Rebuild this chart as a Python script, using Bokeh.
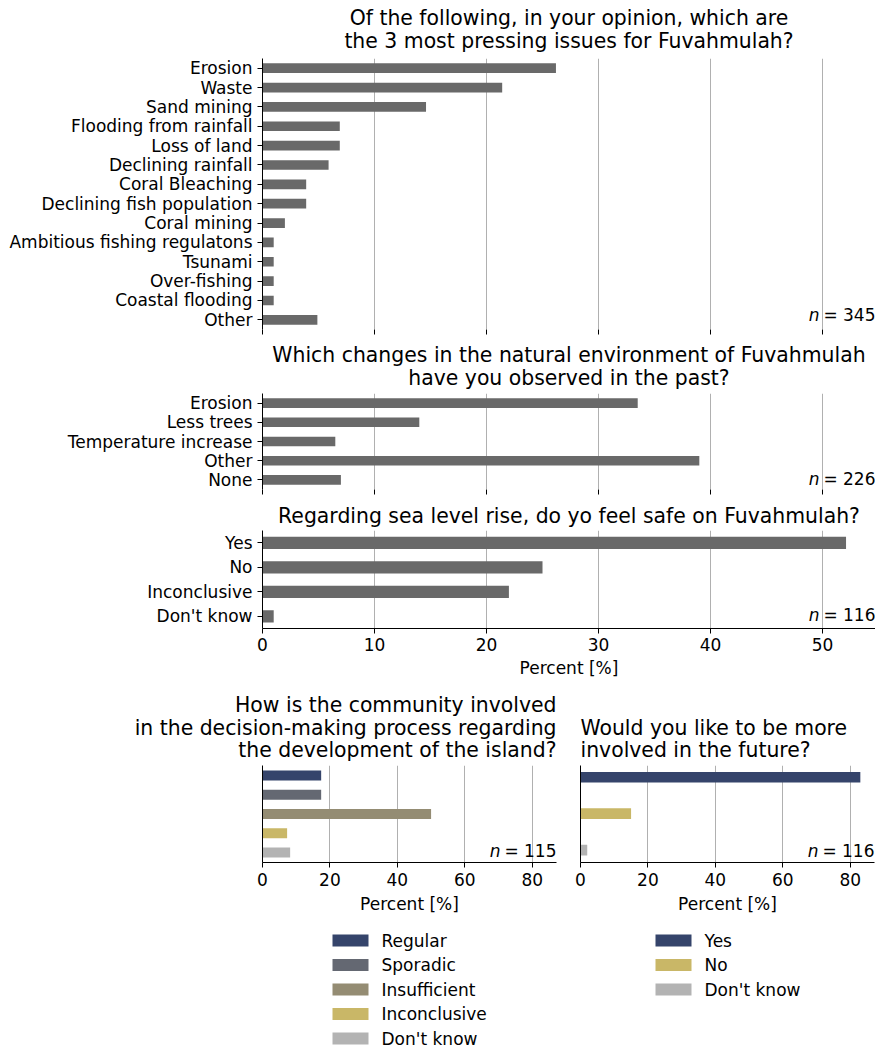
from bokeh.plotting import figure
from bokeh.models import (FactorRange, Range1d, Title, Label, FixedTicker,
                          CustomJSTickFormatter, ColumnDataSource)
from bokeh.core.properties import value
from bokeh.layouts import column, row
from bokeh.embed import file_html
from bokeh.resources import INLINE

# ---- survey results (percent of respondents) ----
issues = ["Erosion", "Waste", "Sand mining", "Flooding from rainfall", "Loss of land",
          "Declining rainfall", "Coral Bleaching", "Declining fish population",
          "Coral mining", "Ambitious fishing regulatons", "Tsunami", "Over-fishing",
          "Coastal flooding", "Other"]
issues_pct = [26.2, 21.4, 14.6, 6.9, 6.9, 5.9, 3.9, 3.9, 2.0, 1.0, 1.0, 1.0, 1.0, 4.9]
issues_n = 345

changes = ["Erosion", "Less trees", "Temperature increase", "Other", "None"]
changes_pct = [33.5, 14.0, 6.5, 39.0, 7.0]
changes_n = 226

safety = ["Yes", "No", "Inconclusive", "Don't know"]
safety_pct = [52.1, 25.0, 22.0, 1.0]
safety_n = 116

involvement = ["Regular", "Sporadic", "Insufficient", "Inconclusive", "Don't know"]
involvement_pct = [17.4, 17.4, 50.0, 7.3, 8.2]
involvement_n = 115

more_involved = ["Yes", "No", "Don't know"]
more_involved_pct = [83.0, 15.0, 2.0]
more_involved_n = 116

top_ticks = [0, 10, 20, 30, 40, 50]
bottom_ticks = [0, 20, 40, 60, 80]
top_xmax = 54.73
bottom_xmax = 87.2

# ---- styling ----
FONT = "DejaVu Sans"
TICK_SIZE = "17px"
TITLE_SIZE = "20.4px"
BAR_GREY = "#696969"
GRID = "#b0b0b0"
involvement_colors = ["#35446b", "#646872", "#948c73", "#c9b767", "#b3b3b3"]
more_involved_colors = ["#35446b", "#c9b767", "#b3b3b3"]


def add_titles(p, lines, align, standoffs):
    # Titles stack outward from the frame: the last line goes in first.
    for line, so in zip(reversed(lines), standoffs):
        p.add_layout(Title(text=line, align=align, text_font=FONT, text_font_size=TITLE_SIZE,
                           text_font_style="normal", text_color="black", standoff=so), "above")


def add_n(p, xmax, n, y_px):
    p.add_layout(Label(x=xmax, y=y_px, y_units="screen", text=f"= {n}", text_align="right",
                       text_baseline="middle", text_font=FONT, text_font_size=TICK_SIZE,
                       text_color="black"))
    p.add_layout(Label(x=xmax, y=y_px, y_units="screen", text="n", text_align="right",
                       text_baseline="middle", text_font=FONT, text_font_size=TICK_SIZE,
                       text_font_style="italic", text_color="black", x_offset=-56))


def style_x(p, ticks, show_labels, label_standoff=5, title_standoff=5):
    ax = p.xaxis[0]
    ax.ticker = FixedTicker(ticks=ticks)
    ax.major_tick_out = 5
    ax.major_tick_in = 0
    ax.minor_tick_out = 0
    ax.minor_tick_in = 0
    ax.major_label_text_font = FONT
    ax.major_label_text_font_size = TICK_SIZE
    ax.major_label_text_color = "black"
    ax.major_label_standoff = label_standoff
    ax.axis_line_color = "black"
    if not show_labels:
        ax.axis_line_color = None
        ax.formatter = CustomJSTickFormatter(code="return ''")
        ax.major_label_standoff = 0
    else:
        ax.axis_label = "Percent [%]"
        ax.axis_label_text_font = FONT
        ax.axis_label_text_font_size = TICK_SIZE
        ax.axis_label_text_font_style = "normal"
        ax.axis_label_text_color = "black"
        ax.axis_label_standoff = title_standoff
    p.xgrid.ticker = FixedTicker(ticks=ticks)
    p.xgrid.grid_line_color = GRID
    p.xgrid.grid_line_width = 1
    p.ygrid.grid_line_color = None
    p.outline_line_color = None


def top_panel(cats, vals, n, lines, frame_h, border_top, border_bottom, show_x,
              n_px, standoffs):
    p = figure(title=None, y_range=FactorRange(factors=cats[::-1]), x_range=Range1d(0, top_xmax),
               frame_width=613, frame_height=frame_h, min_border_left=262, min_border_right=0,
               min_border_top=border_top, min_border_bottom=border_bottom,
               output_backend="svg", toolbar_location=None)
    p.hbar(y=cats, right=vals, left=0, height=0.5, fill_color=BAR_GREY, line_color=None)
    style_x(p, top_ticks, show_x, 4, 4)
    ay = p.yaxis[0]
    ay.major_tick_out = 5
    ay.major_tick_in = 0
    ay.major_label_standoff = 5
    ay.major_label_text_font = FONT
    ay.major_label_text_font_size = TICK_SIZE
    ay.major_label_text_color = "black"
    ay.axis_line_color = "black"
    add_titles(p, lines, "center", standoffs)
    add_n(p, top_xmax, n, n_px)
    return p


p1 = top_panel(issues, issues_pct, issues_n,
               ["Of the following, in your opinion, which are",
                "the 3 most pressing issues for Fuvahmulah?"],
               271, 58, 8, False, 15, [11, -16])
p2 = top_panel(changes, changes_pct, changes_n,
               ["Which changes in the natural environment of Fuvahmulah",
                "have you observed in the past?"],
               96, 56, 9, False, 11, [7, -12])
p3 = top_panel(safety, safety_pct, safety_n,
               ["Regarding sea level rise, do yo feel safe on Fuvahmulah?"],
               98, 32, 52, True, 14, [5])


def bottom_panel(cats, vals, colors, n, lines, align, y_lo, y_hi, bar_h,
                 border_left, border_right, standoffs):
    p = figure(title=None, x_range=Range1d(0, bottom_xmax), y_range=Range1d(y_hi, y_lo),
               frame_width=294, frame_height=97, min_border_left=border_left,
               min_border_right=border_right, min_border_top=85, min_border_bottom=56,
               output_backend="svg", toolbar_location=None)
    src = ColumnDataSource(dict(y=list(range(len(cats))), pct=vals, color=colors))
    p.hbar(y="y", right="pct", left=0, height=bar_h, fill_color="color",
           line_color=None, source=src)
    style_x(p, bottom_ticks, True)
    ay = p.yaxis[0]
    ay.major_tick_out = 0
    ay.major_tick_in = 0
    ay.minor_tick_out = 0
    ay.minor_tick_in = 0
    ay.major_label_standoff = 0
    ay.formatter = CustomJSTickFormatter(code="return ''")
    ay.axis_line_color = "black"
    add_titles(p, lines, align, standoffs)
    add_n(p, bottom_xmax, n, 12)
    return p


p4 = bottom_panel(involvement, involvement_pct, involvement_colors, involvement_n,
                  ["How is the community involved",
                   "in the decision-making process regarding",
                   "the development of the island?"],
                  "right", -0.52, 4.52, 0.52, 262, 12, [7, -14, 7])
p5 = bottom_panel(more_involved, more_involved_pct, more_involved_colors, more_involved_n,
                  ["Would you like to be more", "involved in the future?"],
                  "left", -0.32, 2.34, 0.29, 12, 1, [7, -14])

# ---- legend strip: x in page pixels, y in legend rows (24.5px each) ----
LEG_LEFT, LEG_RIGHT, LEG_H, ROW = 262, 875, 128, 24.5
first_row_px = 22
pl = figure(title=None, x_range=Range1d(LEG_LEFT, LEG_RIGHT),
            y_range=Range1d(first_row_px / -ROW + LEG_H / ROW, first_row_px / -ROW),
            frame_width=LEG_RIGHT - LEG_LEFT, frame_height=LEG_H,
            min_border_left=LEG_LEFT, min_border_right=0, min_border_top=0, min_border_bottom=0,
            x_axis_type=None, y_axis_type=None, output_backend="svg", toolbar_location=None)
pl.grid.visible = False
pl.outline_line_color = None


def legend_block(cats, colors, left):
    rows = list(range(len(cats)))
    src = ColumnDataSource(dict(y=rows, label=cats, color=colors,
                                x0=[left] * len(cats), x1=[left + 36] * len(cats),
                                tx=[left + 49] * len(cats)))
    pl.hbar(y="y", left="x0", right="x1", height=12 / ROW, fill_color="color",
            line_color=None, source=src)
    pl.text(x="tx", y="y", text="label", text_baseline="middle", text_align="left",
            text_font=value(FONT), text_font_size=value(TICK_SIZE), text_color="black",
            source=src)


legend_block(involvement, involvement_colors, 332)
legend_block(more_involved, more_involved_colors, 655)

layout = column(p1, p2, p3, row(p4, p5), pl)

open("out.html", "w").write(file_html(layout, INLINE))
